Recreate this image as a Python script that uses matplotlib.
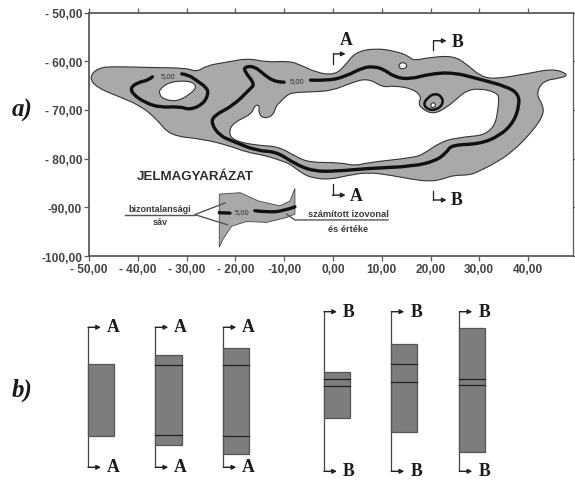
import matplotlib
matplotlib.use("Agg")
import matplotlib.pyplot as plt
from matplotlib.path import Path
from matplotlib.patches import PathPatch

W, H = 575, 481
SANS = "Liberation Sans"
SERIF = "Liberation Serif"
INK = "#2e2e2e"
AXC = "#5a5a5a"
GREY = "#a9a9a9"
BAR = "#7d7d7d"

outer_x = [-50,-48.1,-44.3,-37.5,-30,-27.9,-25.9,-21.8,-17.4,-13.6,-9.5,-7.4,-3.3,0.4,2.5,4.5,8.6,13,15.4,16.5,19.9,24.7,27.4,30.1,32.9,39.7,45.2,48.4,46.5,43.1,41.6,43.1,43.1,40.7,37,33.5,30.1,28.1,24.7,22.6,19.9,16.5,11.7,7.2,2.8,-0.6,-4,-6.1,-8.8,-10.2,-13.6,-17.7,-21.1,-26.6,-33.4,-36.1,-39.5,-44.3,-48.4]
outer_y = [-63.3,-61.3,-61.1,-61.3,-61.4,-62.2,-60.9,-60.2,-59.4,-60.2,-60,-60.4,-62.4,-62.8,-60.9,-58.2,-57.3,-58,-58.9,-59.9,-59.2,-58.9,-60.6,-63,-63.7,-62.6,-61.5,-62.8,-63.5,-64,-66.7,-69.1,-71.2,-74.6,-78.4,-80.8,-82.5,-83.4,-83.4,-84.2,-84.7,-84.3,-83.4,-82.8,-83.5,-84.3,-84,-83.2,-81.1,-80.6,-79.4,-78.7,-77.4,-76,-75.3,-71.9,-69.1,-67.1,-65.4]

inner_x = [-8.1,-9.5,-10.9,-11.6,-12.3,-14.3,-15.3,-15,-16,-16.7,-20.4,-21.4,-20.4,-15.6,-11.2,-7.4,-4.7,1.4,4.5,7.2,16.5,18.5,21.9,25.3,32.9,34.2,33.5,30.1,27.4,25.3,23.3,20.6,18.2,17.5,18.2,16.5,12.4,10.3,7.2,3.8,0,-4]
inner_y = [-66.4,-67,-68.5,-69.1,-71.2,-71.8,-70.5,-69.1,-69,-70.9,-72.6,-74.6,-76.3,-77.3,-77.5,-79.7,-80.8,-80.8,-81.5,-80.8,-79.8,-79.1,-76.7,-75.7,-75,-67.8,-66.4,-65.6,-66,-67.8,-69.5,-70.9,-69.8,-68.5,-67.4,-65.7,-65,-65.4,-63.5,-64.4,-66,-66.3]

hole1_x = [-35.5,-33.4,-29.3,-27.8,-29.3,-32,-34.8,-35.6]
hole1_y = [-65.7,-64.2,-64,-65.2,-66.8,-68.3,-67.8,-66.7]
hole2_x = [13.4,14.3,15.3,14.7,13.7]
hole2_y = [-60.8,-60.1,-60.8,-61.6,-61.5]
hole3_x = [19.9,20.6,21.2,20.4]
hole3_y = [-69.1,-68.3,-69.1,-69.7]

left_iso_x = [-37,-37.8,-39.8,-41.5,-41,-38.5,-35.5,-31.4,-29.3,-26.6,-25.5,-25.9,-27.9,-29.6,-31]
left_iso_y = [-63.2,-63.9,-64.3,-65.4,-66.8,-68.5,-69.5,-69.3,-70,-68.8,-66.7,-65.4,-64,-62.8,-62.6]
main_iso_x = [-10,-11.9,-14.3,-16,-18,-18.2,-16,-17,-20.4,-24.5,-24.9,-23.2,-20.4,-15.6,-11.5,-7.8,-4,0.75,7.2,16.5,21.2,23.3,24.3,30.1,34.2,37,38.2,38,35.6,30.1,24.7,19.9,15.8,12.7,10.3,8.3,6.2,2.8,-0.6,-4.6]
main_iso_y = [-64.3,-64.3,-62.6,-61.1,-61.1,-62,-64.7,-65.7,-69.1,-71.2,-72.9,-75.3,-76.5,-78.4,-78.6,-81.1,-82.6,-82.6,-82,-81.6,-80.4,-78.7,-77.2,-77,-75.3,-72.6,-69.1,-66.7,-65.2,-63.7,-62.3,-62.6,-63.7,-63.3,-61.6,-61.1,-61.3,-63,-64,-63.9]
ring_x = [18.5,19.5,20.9,22.3,22.6,21.2,19.5]
ring_y = [-68.8,-67.4,-66.6,-67.2,-68.8,-70,-70]

key_band_x = [-23.3,-19,-15.3,-10.9,-8.8,-7.8,-7.8,-9.5,-13.6,-17.7,-20.8,-22.5,-23.3]
key_band_y = [-87.3,-87,-88.7,-89.7,-88.7,-86.1,-91.4,-92.1,-93.1,-92.9,-93.9,-96.5,-98.2]
key_iso_a_x = [-23.3,-21.1]
key_iso_a_y = [-91.1,-91.2]
key_iso_b_x = [-16,-13.6,-10.2,-7.8]
key_iso_b_y = [-90.7,-91,-90.8,-89.9]
lead_left_x = [-22.1,-28.3,-21.6]
lead_left_y = [-89.1,-91.5,-93.6]
lead_rule_x = [-42.6,-28.3]
lead_rule_y = [-91.5,-91.5]
lead_right_x = [-9.5,-7.8,11.3]
lead_right_y = [-91.4,-92.6,-92.6]

x_ticks = [-50,-40,-30,-20,-10,0,10,20,30,40]
x_labels = ["- 50,00","- 40,00","- 30,00","- 20,00","-10,00","0,00","10,00","20,00","30,00","40,00"]
y_ticks = [-50,-60,-70,-80,-90,-100]
y_labels = ["- 50,00","- 60,00","- 70,00","- 80,00","-90,00","-100,00"]

sec_names = ["A","A","A","B","B","B"]
sec_left = [88,155.3,223.3,324,391.3,459.3]
sec_right = [114.3,181.7,249,349.7,417,485]
sec_top = [365,355.7,348.7,373.3,344.7,329.3]
sec_bottom = [436.7,446,454.7,419.3,433,453.3]
sec_line1 = [None,366,366.3,380.3,365.3,380.3]
sec_line2 = [None,436,436.7,386.7,382.7,386.3]
sec_frame_top = [328.3,328.3,328.3,312.7,312.7,312.7]
sec_frame_bottom = [468.3,468.3,468.3,472.3,472.3,472.3]


def smooth_path(xs, ys, closed):
    """Rounded outline through the read points: the points act as curve controls."""
    pts = list(zip(xs, ys))
    mid = lambda a, b: ((a[0]+b[0])/2, (a[1]+b[1])/2)
    if closed:
        verts = [mid(pts[-1], pts[0])]
        codes = [Path.MOVETO]
        for i, p in enumerate(pts):
            verts += [p, mid(p, pts[(i+1) % len(pts)])]
            codes += [Path.CURVE3, Path.CURVE3]
    else:
        verts = [pts[0]]
        codes = [Path.MOVETO]
        for i in range(1, len(pts)-1):
            end = mid(pts[i], pts[i+1]) if i < len(pts)-2 else pts[i+1]
            verts += [pts[i], end]
            codes += [Path.CURVE3, Path.CURVE3]
        if len(pts) == 2:
            verts.append(pts[1]); codes.append(Path.LINETO)
    return Path(verts, codes)


fig = plt.figure(figsize=(W/100, H/100), dpi=100, facecolor="white")
L, R, T, B = 89, 572.5, 13.5, 257
ax = fig.add_axes([L/W, 1-B/H, (R-L)/W, (B-T)/H])
ax.set_xlim(-50, 49.1)
ax.set_ylim(-100, -50)

ax.add_patch(PathPatch(smooth_path(outer_x, outer_y, True), fc=GREY, ec="#333333", lw=0.8))
for hx, hy in [(inner_x, inner_y), (hole1_x, hole1_y), (hole2_x, hole2_y), (hole3_x, hole3_y)]:
    ax.add_patch(PathPatch(smooth_path(hx, hy, True), fc="white", ec="#333333", lw=0.8))
iso = dict(fc="none", ec="#111111", lw=2.4, capstyle="round", joinstyle="round")
ax.add_patch(PathPatch(smooth_path(left_iso_x, left_iso_y, False), **iso))
ax.add_patch(PathPatch(smooth_path(main_iso_x, main_iso_y, False), **iso))
ax.add_patch(PathPatch(smooth_path(ring_x, ring_y, True), fc="none", ec="#111111", lw=1.8))

small = dict(family=SANS, fontsize=5.5, color="#333333", ha="center", va="center")
ax.text(-33.7, -63, "5,00", **small)
ax.text(-7.4, -64, "5,00", **small)
ax.text(-18.6, -90.9, "5,00", **small)

ax.fill(key_band_x, key_band_y, fc=GREY, ec="#444444", lw=0.6)
ax.add_patch(PathPatch(smooth_path(key_iso_a_x, key_iso_a_y, False), **iso))
ax.add_patch(PathPatch(smooth_path(key_iso_b_x, key_iso_b_y, False), **iso))
lead = dict(color="#555555", lw=1.0)
ax.plot(lead_left_x, lead_left_y, **lead)
ax.plot(lead_rule_x, lead_rule_y, **lead)
ax.plot(lead_right_x, lead_right_y, **lead)
ax.text(-28.3, -83.5, "JELMAGYARÁZAT", family=SANS, weight="bold", fontsize=9.6, color=INK, ha="center", va="center")
leg = dict(family=SANS, weight="bold", color="#3a3a3a", ha="center", va="center")
ax.text(-35.5, -90.2, "bizontalansági", fontsize=6.5, **leg)
ax.text(-35.5, -93, "sáv", fontsize=6.5, **leg)
ax.text(3.2, -91.2, "számított izovonal", fontsize=6.7, **leg)
ax.text(3.2, -94.3, "és értéke", fontsize=6.7, **leg)


def mark(xs, ys, name, tx, ty):
    ax.plot(xs[:-1], ys[:-1], color="#222222", lw=0.9)
    ax.annotate("", xy=(xs[-1], ys[-1]), xytext=(xs[-2], ys[-2]),
                arrowprops=dict(arrowstyle="-|>", color="#222222", lw=1.0, mutation_scale=6.5, shrinkA=0, shrinkB=0))
    ax.text(tx, ty, name, family=SERIF, weight="bold", fontsize=12.8, color="#1a1a1a", ha="center", va="center")


mark([0.07,0.07,2.6], [-60.6,-58.5,-58.5], "A", 2.7, -55.6)
mark([20.6,20.6,23.3], [-57.6,-55.8,-55.8], "B", 25.5, -56)
mark([-0.07,-0.07,2.6], [-85.2,-87.5,-87.5], "A", 4.85, -87.5)
mark([20.6,20.6,23.3], [-86.6,-88.5,-88.5], "B", 25.3, -88.5)

ax.set_xticks(x_ticks, x_labels)
ax.set_yticks(y_ticks, y_labels)
ax.tick_params(axis="both", length=3.5, width=0.9, color=AXC, top=True, right=True,
               labelcolor="#444444", pad=1.5)
for lab in ax.get_xticklabels() + ax.get_yticklabels():
    lab.set_family(SANS); lab.set_weight("bold"); lab.set_fontsize(8.6)
for s in ax.spines.values():
    s.set_color(AXC); s.set_linewidth(1.3)
ax.spines["right"].set_linewidth(0.9)

ov = fig.add_axes([0, 0, 1, 1], facecolor="none")
ov.set_xlim(0, W); ov.set_ylim(H, 0); ov.axis("off")
for i, name in enumerate(sec_names):
    l, r = sec_left[i], sec_right[i]
    ov.plot([l, l], [sec_frame_top[i], sec_frame_bottom[i]], color="#444444", lw=0.9, zorder=1)
    for fy in (sec_frame_top[i], sec_frame_bottom[i]):
        ov.annotate("", xy=(l+13, fy), xytext=(l, fy),
                    arrowprops=dict(arrowstyle="-|>", color="#222222", lw=1.0, mutation_scale=6.5, shrinkA=0, shrinkB=0))
        ov.text(l+25, fy-0.5, name, family=SERIF, weight="bold", fontsize=12.8, color="#1a1a1a", ha="center", va="center")
    ov.fill([l, r, r, l], [sec_top[i], sec_top[i], sec_bottom[i], sec_bottom[i]], fc=BAR, ec="#555555", lw=0.9, zorder=2)
    for ln in (sec_line1[i], sec_line2[i]):
        if ln is not None:
            ov.plot([l, r], [ln, ln], color="#222222", lw=0.9, zorder=3)
ov.text(22, 110, "a)", family=SERIF, weight="bold", style="italic", fontsize=18, color="#1a1a1a", ha="center", va="center")
ov.text(22, 390, "b)", family=SERIF, weight="bold", style="italic", fontsize=18, color="#1a1a1a", ha="center", va="center")

fig.savefig("out.png", dpi=100)
